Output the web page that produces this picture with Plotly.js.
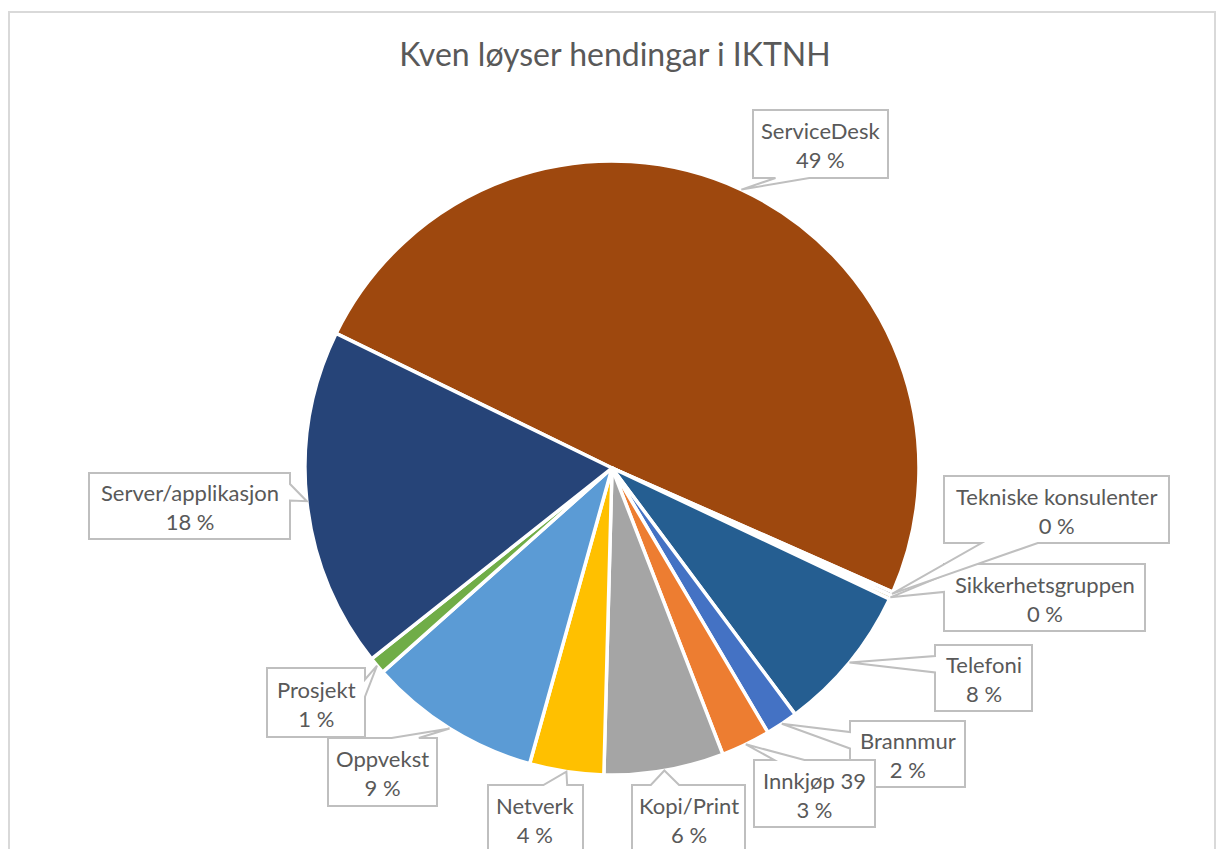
<!DOCTYPE html>
<html><head><meta charset="utf-8">
<script src="https://cdn.plot.ly/plotly-3.0.1.min.js"></script>
<style>html,body{margin:0;padding:0;background:#fff;} #chart{width:1216px;height:849px;}</style>
</head><body><div id="chart"></div>
<script>
// ---- data ----
const categories = ["ServiceDesk","Tekniske konsulenter","Sikkerhetsgruppen","Telefoni","Brannmur","Innkjøp 39","Kopi/Print","Netverk","Oppvekst","Prosjekt","Server/applikasjon"];
const shares = [49.4, 0.2, 0.2, 7.8, 1.7, 2.6, 6.3, 3.9, 9.1, 0.9, 17.9];
const sliceColors = ["#9E480E","#636363","#997300","#255E91","#4472C4","#ED7D31","#A5A5A5","#FFC000","#5B9BD5","#70AD47","#264478"];
const titleText = "Kven løyser hendingar i IKTNH";

// ---- geometry (pixels) ----
const W = 1216, H = 849, CX = 612, CY = 468, R = 307, ROT = 296;
// callout boxes: [left, top, width, height]
const boxes = [[753,110,135,68],[944,476,225,67],[944,564,201,67],[935,645,97,66],[850,721,115,66],[754,760,121,67],[632,785,113,67],[488,785,95,67],[328,738,109,68],[267,668,98,69],[89,473,201,66]];

const total = shares.reduce((a,b)=>a+b,0);
let cum = 0;
const tips = shares.map(v => {
  const a = (ROT + 360*(cum + v/2)/total) * Math.PI/180;
  cum += v;
  return [CX + R*Math.sin(a), CY - R*Math.cos(a)];
});

function calloutPath(l,t,w,h,px,py){
  const hc=l+w/2, vc=t+h/2;
  const dxPos=px-hc, dyPos=py-vc;
  const dx=dxPos*h, dy=dyPos*w;
  const x1=l+w*(dxPos>0?7:2)/12, x2=l+w*(dxPos>0?10:5)/12;
  const y1=t+h*(dyPos>0?7:2)/12, y2=t+h*(dyPos>0?10:5)/12;
  const r=l+w, b=t+h;
  const side = Math.abs(dx)>Math.abs(dy) ? (dxPos>0?'r':'l') : (dyPos>0?'b':'t');
  let p = `M${l},${t}`;
  if(side==='t') p+=` L${x1},${t} L${px},${py} L${x2},${t}`;
  p+=` L${r},${t}`;
  if(side==='r') p+=` L${r},${y1} L${px},${py} L${r},${y2}`;
  p+=` L${r},${b}`;
  if(side==='b') p+=` L${x2},${b} L${px},${py} L${x1},${b}`;
  p+=` L${l},${b}`;
  if(side==='l') p+=` L${l},${y2} L${px},${py} L${l},${y1}`;
  return p+' Z';
}

const shapes = [{type:'rect', xref:'x', yref:'y', x0:9, x1:1215, y0:12, y1:H+10, line:{color:'#d9d9d9', width:2}, layer:'below'}];
const annotations = [];
// draw order: so that Tekniske callout lies above Sikkerhetsgruppen
const order = [0,2,1,3,4,5,6,7,8,9,10];
order.forEach(i => {
  const [l,t,w,h] = boxes[i];
  shapes.push({type:'path', xref:'x', yref:'y', path: calloutPath(l,t,w,h,tips[i][0],tips[i][1]),
    fillcolor:'#ffffff', line:{color:'#bfbfbf', width:2}, layer:'above'});
  const pct = Math.round(shares[i]/total*100);
  annotations.push({xref:'x', yref:'y', x:l+w/2, y:t+h/2+1, xanchor:'center', yanchor:'middle', showarrow:false,
    text: categories[i] + '<br>' + pct + ' %', align:'center',
    font:{family:'Lato, "Open Sans", sans-serif', size:22, color:'#595959'}});
});

const data = [
  {type:'scatter', x:[], y:[], showlegend:false, hoverinfo:'skip'},
  {type:'pie', values: shares, labels: categories, sort:false, direction:'clockwise', rotation: ROT,
   marker:{colors: sliceColors, line:{color:'#ffffff', width:3.5}}, textinfo:'none', hoverinfo:'label+percent',
   showlegend:false,
   domain:{x:[(CX-R)/W,(CX+R)/W], y:[1-(CY+R)/H, 1-(CY-R)/H]}}
];

const layout = {
  width: W, height: H, margin:{l:0,r:0,t:0,b:0}, paper_bgcolor:'#ffffff', plot_bgcolor:'rgba(0,0,0,0)',
  showlegend:false,
  xaxis:{range:[0,W], visible:false, fixedrange:true},
  yaxis:{range:[H,0], visible:false, fixedrange:true},
  title:{text: titleText, x: 615/W, xref:'paper', xanchor:'center', y: 1-55/H, yref:'paper', yanchor:'middle',
    font:{family:'Lato, "Open Sans", sans-serif', size:32, color:'#595959'}},
  shapes: shapes, annotations: annotations
};
Plotly.newPlot('chart', data, layout, {displayModeBar:false, staticPlot:true});
</script></body></html>
